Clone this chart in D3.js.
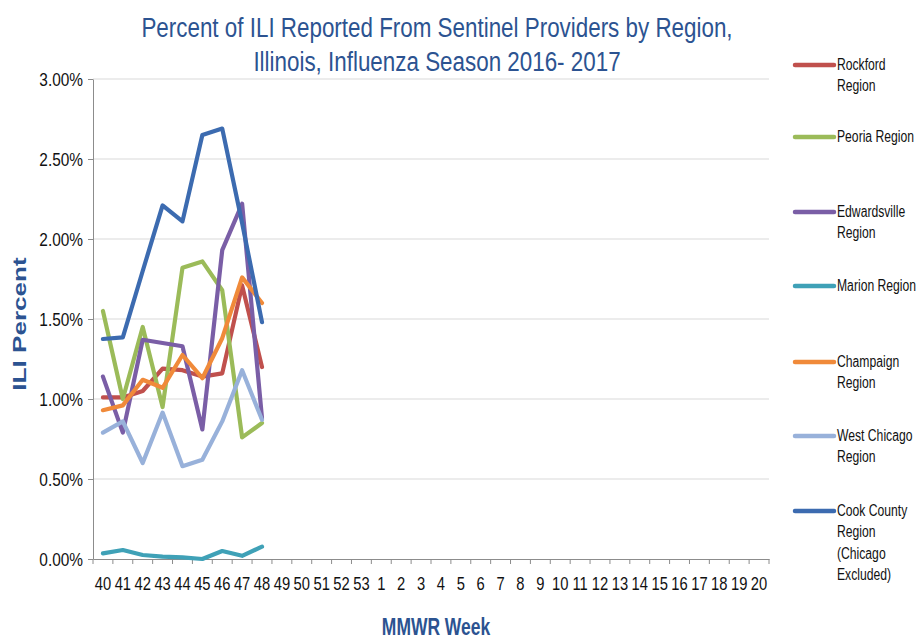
<!DOCTYPE html>
<html><head><meta charset="utf-8">
<script src="https://cdn.jsdelivr.net/npm/d3@7/dist/d3.min.js"></script>
<style>body{margin:0;background:#fff}</style>
</head><body><svg id="c" width="922" height="641"></svg>
<script>
const weeks = ["40","41","42","43","44","45","46","47","48","49","50","51","52","53","1","2","3","4","5","6","7","8","9","10","11","12","13","14","15","16","17","18","19","20"];
const yTicks = [0, 0.5, 1.0, 1.5, 2.0, 2.5, 3.0];
const seriesNames = ["Rockford Region","Peoria Region","Edwardsville Region","Marion Region","Champaign Region","West Chicago Region","Cook County Region (Chicago Excluded)"];
const legendLines = [["Rockford","Region"],["Peoria Region"],["Edwardsville","Region"],["Marion Region"],["Champaign","Region"],["West Chicago","Region"],["Cook County","Region","(Chicago","Excluded)"]];
const colors = ["#c0504d","#9bbb59","#7a5ea6","#3fa1b7","#f08a3a","#98b1da","#3c6bb0"];
const rockford = [1.01,1.01,1.05,1.19,1.18,1.14,1.16,1.71,1.20];
const peoria = [1.55,1.00,1.45,0.95,1.82,1.86,1.68,0.76,0.85];
const edwardsville = [1.14,0.79,1.37,1.35,1.33,0.81,1.93,2.22,0.88];
const marion = [0.035,0.056,0.025,0.015,0.01,0.0,0.05,0.02,0.077];
const champaign = [0.93,0.96,1.12,1.07,1.275,1.13,1.38,1.76,1.60];
const westChicago = [0.79,0.86,0.60,0.915,0.58,0.62,0.86,1.18,0.87];
const cookCounty = [1.375,1.385,1.80,2.21,2.11,2.65,2.69,2.10,1.48];
const allSeries = [rockford,peoria,edwardsville,marion,champaign,westChicago,cookCounty];

const svg = d3.select("#c");
const L = 93, R = 769, T = 79, B = 559;
const font = "'Liberation Sans',Arial,sans-serif";
const blue = "#2c5391";
const x = d3.scaleBand().domain(weeks).range([L, R]);
const y = d3.scaleLinear().domain([0, 3]).range([B, T]);

// gridlines
svg.append("g").selectAll("line").data(yTicks.filter(d=>d>0)).join("line")
  .attr("x1", L).attr("x2", R).attr("y1", d=>y(d)).attr("y2", d=>y(d))
  .attr("stroke", "#d9d9d9").attr("stroke-width", 1);

// y axis
const ya = svg.append("g").attr("transform", `translate(${L},0)`)
  .call(d3.axisLeft(y).tickValues(yTicks).tickFormat(d=>d.toFixed(2)+"%").tickSize(5).tickSizeOuter(0));
ya.select(".domain").attr("stroke", "#8c8c8c");
ya.selectAll(".tick line").attr("stroke", "#8c8c8c");
ya.selectAll("text").attr("font-family", font).attr("font-size", 17.5).attr("fill", "#111")
  .attr("x", 0).attr("dy", "0.35em").attr("transform", "translate(-10,0) scale(0.88,1)");

// x axis
const xa = svg.append("g").attr("transform", `translate(0,${B})`)
  .call(d3.axisBottom(x).tickSize(0).tickSizeOuter(0));
xa.select(".domain").attr("stroke", "#8c8c8c");
xa.selectAll("text").attr("font-family", font).attr("font-size", 18).attr("fill", "#111")
  .attr("y", 0).attr("dy", 0).attr("transform", "translate(0,31) scale(0.82,1)");
const bounds = weeks.map(w => x(w)).concat([R]);
xa.append("g").selectAll("line").data(bounds).join("line")
  .attr("x1", d=>d).attr("x2", d=>d).attr("y1", 0).attr("y2", 5).attr("stroke", "#8c8c8c");

// lines
const line = d3.line().x((d,i)=>x(weeks[i]) + x.bandwidth()/2).y(d=>y(d));
svg.append("g").selectAll("path").data(allSeries).join("path")
  .attr("d", d=>line(d)).attr("fill", "none")
  .attr("stroke", (d,i)=>colors[i]).attr("stroke-width", 4.2)
  .attr("stroke-linejoin", "round").attr("stroke-linecap", "round");

// title
const title = svg.append("text").attr("text-anchor", "middle").attr("font-family", font)
  .attr("font-size", 28).attr("fill", blue).attr("transform", "translate(437,0) scale(0.8,1)");
title.append("tspan").attr("x", 0).attr("y", 37).text("Percent of ILI Reported From Sentinel Providers by Region,");
title.append("tspan").attr("x", 0).attr("y", 71).text("Illinois, Influenza Season 2016- 2017");

// axis titles
svg.append("text").attr("transform", "translate(26,324) rotate(-90) scale(1.45,1)").attr("text-anchor", "middle")
  .attr("font-family", font).attr("font-weight", "bold").attr("font-size", 18)
  .attr("fill", blue).text("ILI Percent");
svg.append("text").attr("transform", "translate(436,635) scale(0.76,1)").attr("text-anchor", "middle")
  .attr("font-family", font).attr("font-weight", "bold").attr("font-size", 23)
  .attr("fill", blue).text("MMWR Week");

// legend
const legendY = [65, 137, 212, 286, 362, 436, 511];
const lg = svg.append("g").selectAll("g").data(seriesNames).join("g")
  .attr("transform", (d,i)=>`translate(0,${legendY[i]})`);
lg.append("line").attr("x1", 795).attr("x2", 834).attr("y1", 0).attr("y2", 0)
  .attr("stroke", (d,i)=>colors[i]).attr("stroke-width", 4.5).attr("stroke-linecap", "round");
lg.append("text").attr("font-family", font).attr("font-size", 16).attr("fill", "#111")
  .attr("transform", "translate(837,0) scale(0.76,1)")
  .each(function(d,i){
    const t = d3.select(this);
    legendLines[i].forEach((s,j)=>t.append("tspan").attr("x", 0).attr("y", 5 + j*21.5).text(s));
  });
</script></body></html>
